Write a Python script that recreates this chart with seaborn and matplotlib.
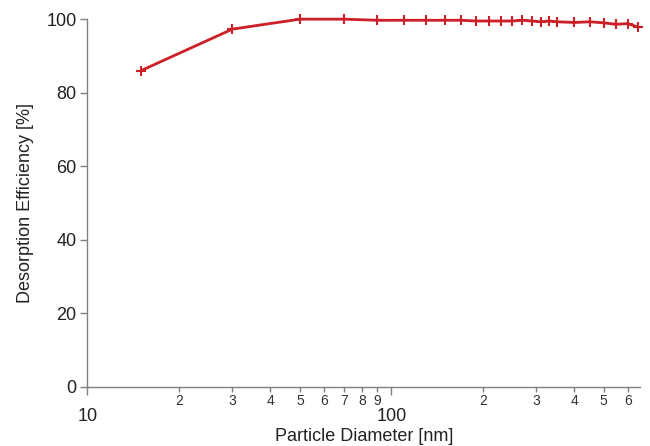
import matplotlib
matplotlib.use("Agg")
import matplotlib.pyplot as plt
import matplotlib.ticker as mticker
import seaborn as sns
import pandas as pd
import numpy as np

diameter_nm = [15, 30, 50, 70, 90, 110, 130, 150, 170, 190, 210, 230, 250, 270,
               290, 310, 330, 350, 400, 450, 500, 550, 600, 650]
efficiency_pct = [86.0, 97.3, 100.0, 100.0, 99.7, 99.7, 99.7, 99.7, 99.7, 99.5,
                  99.5, 99.5, 99.5, 99.7, 99.5, 99.3, 99.5, 99.3, 99.1, 99.3,
                  99.0, 98.6, 98.8, 97.8]
y_ticks = [0, 20, 40, 60, 80, 100]

sns.set_style("white")
plt.rcParams['font.family'] = ['Liberation Sans', 'DejaVu Sans']

df = pd.DataFrame({"d": diameter_nm, "e": efficiency_pct})

fig = plt.figure(figsize=(6.5, 4.46), dpi=100)
ax = fig.add_axes([0.1346, 0.133, 0.8500, 0.824])

sns.lineplot(data=df, x="d", y="e", ax=ax, color="#cc1f26", linewidth=2.0,
             marker="+", markersize=6.5, markeredgewidth=1.5,
             markeredgecolor="#cc1f26", clip_on=False)

ax.set_xscale("log")
ax.set_xlim(10, 658)
ax.set_ylim(0, 100)
ax.set_yticks(y_ticks)

ax.xaxis.set_major_locator(mticker.LogLocator(base=10, subs=(1.0,)))
ax.xaxis.set_minor_locator(mticker.LogLocator(base=10, subs=np.arange(2, 10)))
ax.xaxis.set_major_formatter(mticker.FuncFormatter(lambda v, p: f"{int(round(v))}"))
ax.xaxis.set_minor_formatter(mticker.FuncFormatter(
    lambda v, p: f"{int(round(v / 10 ** np.floor(np.log10(v) + 1e-9)))}"))

for s in ["top", "right"]:
    ax.spines[s].set_visible(False)
for s in ["left", "bottom"]:
    ax.spines[s].set_color("#808080")
    ax.spines[s].set_linewidth(1.0)

ax.tick_params(axis="x", which="major", direction="out", length=6, width=1,
               color="#808080", labelsize=13, pad=9.5, labelcolor="#222222")
ax.tick_params(axis="x", which="minor", direction="out", length=3.5, width=1,
               color="#808080", labelsize=10, pad=1.5, labelcolor="#333333")
ax.tick_params(axis="y", which="major", direction="out", length=5, width=1,
               color="#808080", labelsize=13, pad=3, labelcolor="#222222")
ax.tick_params(left=True, bottom=True)
ax.tick_params(axis="x", which="minor", bottom=True)

ax.set_xlabel("Particle Diameter [nm]", fontsize=13, color="#222222", labelpad=2)
ax.set_ylabel("Desorption Efficiency [%]", fontsize=13, color="#222222", labelpad=9)

fig.savefig("out.png", dpi=100)
